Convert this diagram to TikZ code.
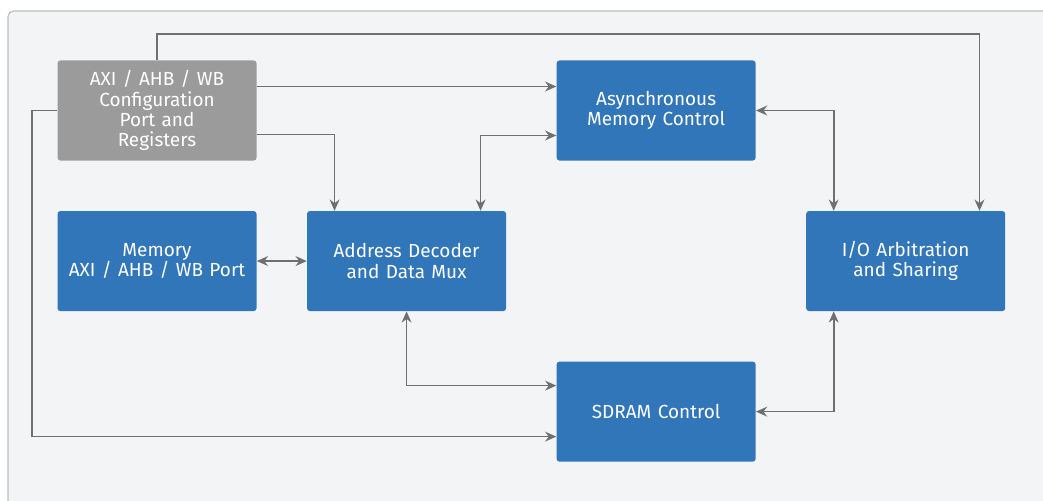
\documentclass[tikz,border=0pt]{standalone}
\usepackage{fontspec}
\setmainfont{Fira Sans}
\usepackage{xcolor}
\usepackage{tikz}
\usetikzlibrary{arrows.meta}
\usetikzlibrary{positioning}
\definecolor{blockblue}{HTML}{3176B8}
\definecolor{blockgray}{HTML}{9B9B9B}
\definecolor{panelbg}{HTML}{F3F4F6}
\definecolor{panelline}{HTML}{BDBDBD}
\definecolor{wire}{HTML}{6F6F6F}
\tikzstyle{block} = [rectangle, rounded corners=2pt, minimum width=4.975cm, minimum height=2.5cm, text width=4.7cm, align=center, text=white, font=\fontsize{13.5}{14.4}\selectfont, fill=blockblue]
\tikzstyle{cfgblock} = [block, fill=blockgray]
\tikzstyle{arrow} = [draw=wire, line width=1.2pt, -{Stealth[length=8pt,width=7pt]}]
\tikzstyle{darrow} = [draw=wire, line width=1.2pt, {Stealth[length=8pt,width=7pt]}-{Stealth[length=8pt,width=7pt]}]

\begin{document}
\begin{tikzpicture}[node distance=1.25cm and 1.25cm]
    \useasboundingbox (0,0) rectangle (26.075,-12.5);
    \fill[white] (0,0) rectangle (26.075,-12.5);
    \draw[panelline, fill=panelbg, line width=0.8pt, rounded corners=4pt] (0.2,-13) rectangle (26.5,-0.275);
    %
    \node(cfg)[cfgblock] at (3.925,-2.7625) {AXI / AHB / WB\\ Configuration\\ Port and\\ Registers};
    \node(mem)[block, below=of cfg] {Memory\\ AXI / AHB / WB Port};
    \node(dec)[block, right=of mem] {Address Decoder\\ and Data Mux};
    \node(async)[block, above right=of dec] {Asynchronous\\ Memory Control};
    \node(io)[block, below right=of async] {I/O Arbitration\\ and Sharing};
    \node(sdram)[block, below left=of io] {SDRAM Control};
    %
    \draw [arrow] (cfg.north) -- ++(0,0.65) -| ([xshift=-0.65cm]io.north east);
    \draw [arrow] ([yshift=0.6cm]cfg.east) -- ([yshift=0.6cm]async.west);
    \draw [arrow] ([yshift=-0.6cm]cfg.east) -| ([xshift=-1.8cm]dec.north);
    \draw [arrow] (cfg.west) -- ++(-0.625,0) |- ([yshift=-0.625cm]sdram.west);
    %
    \draw [darrow] (mem) -- (dec);
    \draw [darrow] ([xshift=1.85cm]dec.north) |- ([yshift=-0.625cm]async.west);
    \draw [darrow] (async.east) -| ([xshift=-1.8cm]io.north);
    \draw [darrow] (dec.south) |- ([yshift=0.65cm]sdram.west);
    \draw [darrow] (sdram.east) -| ([xshift=-1.8cm]io.south);
\end{tikzpicture}
\end{document}
